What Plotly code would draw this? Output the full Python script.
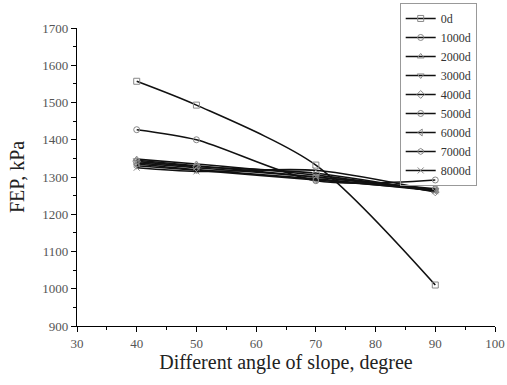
import plotly.graph_objects as go

angles = [40, 50, 70, 90]
series_names = ["0d", "1000d", "2000d", "3000d", "4000d", "5000d", "6000d", "7000d", "8000d"]
fep_0d = [1557, 1493, 1332, 1010]
fep_1000d = [1427, 1400, 1290, 1292]
fep_2000d = [1348, 1335, 1305, 1262]
fep_3000d = [1345, 1330, 1300, 1265]
fep_4000d = [1342, 1328, 1310, 1260]
fep_5000d = [1338, 1325, 1300, 1268]
fep_6000d = [1335, 1320, 1295, 1263]
fep_7000d = [1330, 1318, 1292, 1266]
fep_8000d = [1325, 1315, 1318, 1262]
all_values = [fep_0d, fep_1000d, fep_2000d, fep_3000d, fep_4000d,
              fep_5000d, fep_6000d, fep_7000d, fep_8000d]
symbols = ["square-open", "circle-open", "triangle-up-open", "triangle-down-open",
           "diamond-open", "circle-open", "triangle-left-open", "hexagon-open", "x-thin-open"]

fig = go.Figure()
for name, vals, sym in zip(series_names, all_values, symbols):
    fig.add_trace(go.Scatter(
        x=angles, y=vals, name=name, mode="lines+markers",
        line=dict(color="#111111", width=1.6, shape="spline", smoothing=0.8),
        marker=dict(symbol=sym, size=6, color="#888888",
                    line=dict(color="#888888", width=1)),
    ))

font_family = "Liberation Serif, Times New Roman, serif"
fig.update_layout(
    width=507, height=385,
    margin=dict(l=77, r=12, t=28, b=59, autoexpand=False),
    paper_bgcolor="white", plot_bgcolor="white",
    font=dict(family=font_family, color="#222222"),
    showlegend=True,
    legend=dict(x=0.772, y=1.084, xanchor="left", yanchor="top",
                bordercolor="#999999", borderwidth=1, bgcolor="rgba(255,255,255,0)",
                font=dict(size=12, family=font_family, color="#333333"),
                tracegroupgap=0, itemwidth=30),
    xaxis=dict(range=[30, 100], dtick=10, tick0=30, showline=True, linecolor="black",
               linewidth=1.2, ticks="outside", ticklen=5, tickcolor="black",
               showgrid=False, zeroline=False,
               minor=dict(dtick=5, ticks="outside", ticklen=3, tickcolor="black"),
               tickfont=dict(size=13, color="#555555"),
               title=dict(text="Different angle of slope, degree",
                          font=dict(size=20, color="#222222"), standoff=4)),
    yaxis=dict(range=[900, 1700], dtick=100, showline=True, linecolor="black",
               linewidth=1.2, ticks="outside", ticklen=5, tickcolor="black",
               showgrid=False, zeroline=False,
               minor=dict(dtick=50, ticks="outside", ticklen=3, tickcolor="black"),
               tickfont=dict(size=13, color="#555555"),
               title=dict(text="FEP, kPa", font=dict(size=20, color="#222222"), standoff=12)),
)

fig.write_html("out.html")
